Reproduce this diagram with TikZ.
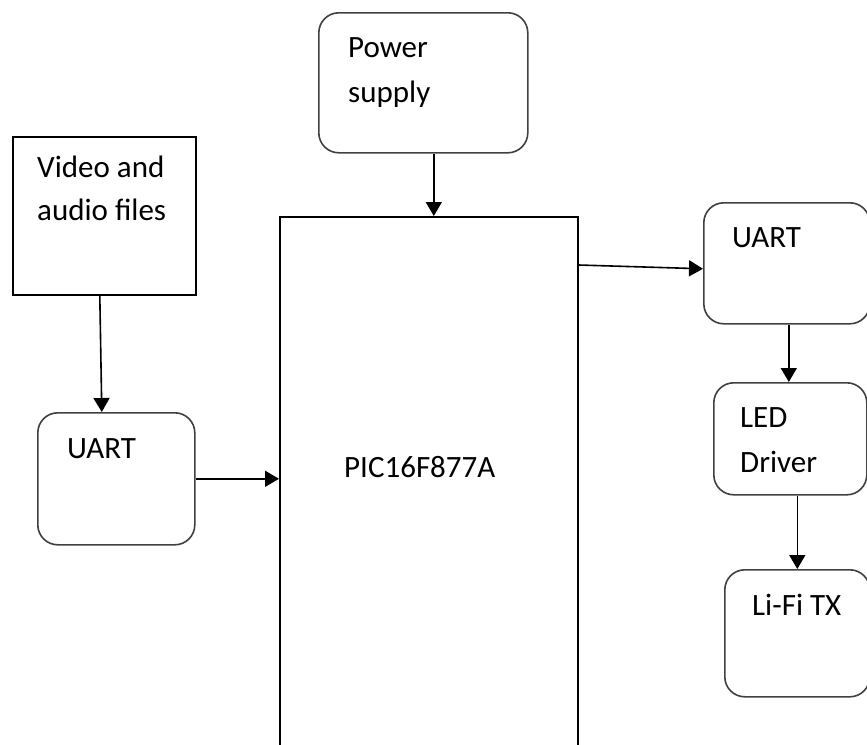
\documentclass[tikz,border=0pt]{standalone}
\usepackage{fontspec}
\setmainfont{Carlito}
\usetikzlibrary{arrows.meta,calc}
\begin{document}
\begin{tikzpicture}[x=1pt,y=-1pt,
  rbox/.style={draw=black!75, line width=1.6pt, rounded corners=20pt, inner sep=0pt, anchor=north west},
  sqbox/.style={draw=black, line width=1.6pt, inner sep=0pt, anchor=north west},
  lbl/.style={anchor=base west, inner sep=0pt, font=\fontsize{31}{45}\selectfont, text=black},
  arr/.style={line width=1.6pt, -{Triangle[length=14pt,width=16pt]}}]
\useasboundingbox (0,0) rectangle (867,744);
% boxes
\node[rbox, minimum width=209pt, minimum height=140pt] (ps) at (318,12) {};
\node[sqbox, minimum width=183pt, minimum height=158pt] (vid) at (12,136) {};
\node[rbox, minimum width=157pt, minimum height=132pt] (ul) at (37,412) {};
\node[sqbox, minimum width=298pt, minimum height=560pt] (pic) at (279,216) {};
\node[rbox, minimum width=166pt, minimum height=121pt] (ur) at (703,202) {};
\node[rbox, minimum width=153pt, minimum height=112pt] (led) at (713,382) {};
\node[rbox, minimum width=145pt, minimum height=127pt] (lifi) at (724,569) {};
% labels
\node[lbl] (tps1) at (348,57) {Power};
\node[lbl] (tps2) at (348,102) {supply};
\node[lbl] (tv1) at (37,177) {Video and};
\node[lbl] (tv2) at (37,220) {audio files};
\node[lbl] (tul) at (67,458) {UART};
\node[lbl] (tpic) at (344,477) {PIC16F877A};
\node[lbl] (tur) at (732,247) {UART};
\node[lbl] (tled1) at (740,427) {LED};
\node[lbl] (tled2) at (740,472) {Driver};
\node[lbl] (tlifi) at (752,615) {Li-Fi TX};
% connectors
\draw[arr] ([xshift=10.5pt]ps.south) -- ([xshift=10.5pt]ps.south |- pic.north);
\draw[arr] ([xshift=-4.5pt]vid.south) -- ([xshift=-14.5pt]ul.north);
\draw[arr] (ul.east) -- (ul.east -| pic.west);
\draw[arr] ([yshift=-49pt]pic.north east) -- ([yshift=-5.5pt]ur.west);
\draw[arr] ([xshift=2pt]ur.south) -- ([xshift=2pt]ur.south |- led.north);
\draw[arr] (lifi.north |- led.south) -- (lifi.north);
\end{tikzpicture}
\end{document}
